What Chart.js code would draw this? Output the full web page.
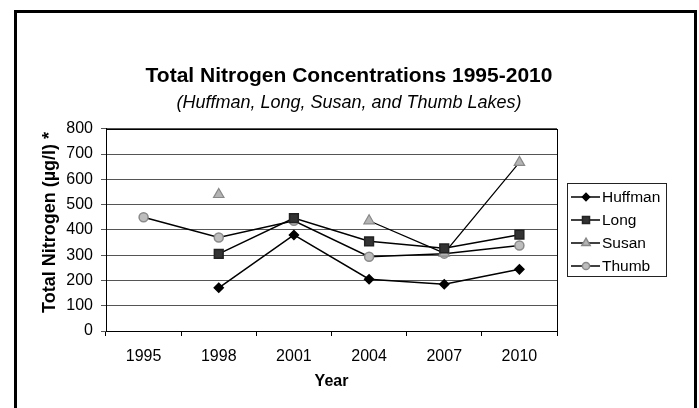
<!DOCTYPE html>
<html>
<head>
<meta charset="utf-8">
<script src="https://cdn.jsdelivr.net/npm/chart.js@4.4.0/dist/chart.umd.min.js"></script>
<style>
  html, body { margin: 0; padding: 0; background: #fff; }
  #wrap { position: relative; width: 699px; height: 408px; }
</style>
</head>
<body>
<div id="wrap"><canvas id="nitrogen"></canvas></div>
<script>
// values
var years = ['1995', '1998', '2001', '2004', '2007', '2010'];
var huffman = [null, 171, 380, 205, 185, 244];
var long = [null, 305, 447, 355, 327, 381];
var susan = [null, 540, null, 436, 308, 667];
var thumb = [450, 370, 436, 294, 306, 338];

var FONT = "'Liberation Sans', Arial, sans-serif";

// black frame around the whole figure
var framePlugin = {
    id: 'frame',
    beforeDraw: function (chart) {
        var c = chart.ctx;
        c.save();
        c.fillStyle = '#fff';
        c.fillRect(0, 0, chart.width, chart.height);
        c.fillStyle = '#000';
        c.fillRect(14, 10, 3, chart.height - 10);
        c.fillRect(14, 10, 683, 3);
        c.fillRect(694, 10, 3, chart.height - 10);
        c.restore();
    },
    afterDraw: function (chart) {
        var c = chart.ctx, a = chart.chartArea;
        c.save();
        c.strokeStyle = '#000';
        c.lineWidth = 1;
        c.strokeRect(Math.round(a.left) + 0.5, Math.round(a.top) + 0.5,
            Math.round(a.right - a.left), Math.round(a.bottom - a.top));
        c.restore();
    }
};

// legend box with line + marker like the spreadsheet original
var boxLegend = {
    id: 'boxLegend',
    afterDraw: function (chart) {
        var c = chart.ctx;
        var x0 = 567, y0 = 183, w = 99, h = 93;
        c.save();
        c.strokeStyle = '#222';
        c.lineWidth = 1;
        c.strokeRect(x0 + 0.5, y0 + 0.5, w, h);
        chart.data.datasets.forEach(function (ds, i) {
            var y = 197 + i * 23;
            c.strokeStyle = '#000';
            c.lineWidth = 1.5;
            c.beginPath();
            c.moveTo(571, y);
            c.lineTo(600, y);
            c.stroke();
            c.fillStyle = ds.pointBackgroundColor;
            c.strokeStyle = ds.pointBorderColor;
            Chart.helpers.drawPoint(c, {
                pointStyle: ds.pointStyle,
                radius: ds.pointRadius * 0.8,
                rotation: 0,
                borderWidth: 1
            }, 586, y);
            c.fillStyle = '#000';
            c.font = '15.5px ' + FONT;
            c.textBaseline = 'middle';
            c.textAlign = 'left';
            c.fillText(ds.label, 602, y + 1);
        });
        c.restore();
    }
};

var ctx = document.getElementById('nitrogen').getContext('2d');
var chart = new Chart(ctx, {
    type: 'line',
    data: {
        labels: years,
        datasets: [
            {
                label: 'Huffman', data: huffman,
                borderColor: '#000', borderWidth: 1.5,
                pointStyle: 'rectRot', pointRadius: 4.5,
                pointBackgroundColor: '#000', pointBorderColor: '#000'
            },
            {
                label: 'Long', data: long,
                borderColor: '#000', borderWidth: 1.5,
                pointStyle: 'rect', pointRadius: 6.2,
                pointBackgroundColor: '#333', pointBorderColor: '#222'
            },
            {
                label: 'Susan', data: susan,
                borderColor: '#000', borderWidth: 1.2,
                pointStyle: 'triangle', pointRadius: 6,
                pointBackgroundColor: '#b4b4b4', pointBorderColor: '#888'
            },
            {
                label: 'Thumb', data: thumb,
                borderColor: '#000', borderWidth: 1.5,
                pointStyle: 'circle', pointRadius: 4.5,
                pointBackgroundColor: '#bdbdbd', pointBorderColor: '#8a8a8a'
            }
        ]
    },
    options: {
        responsive: true,
        maintainAspectRatio: false,
        animation: false,
        layout: { padding: { left: 19, right: 20, top: 0, bottom: 0 } },
        elements: { line: { tension: 0 }, point: { borderWidth: 1 } },
        plugins: {
            legend: { display: false },
            tooltip: { enabled: false },
            title: {
                display: true,
                text: 'Total Nitrogen Concentrations 1995-2010',
                color: '#000',
                font: { family: FONT, size: 21, weight: 'bold' },
                padding: { top: 64, bottom: 0 }
            },
            subtitle: {
                display: true,
                text: '(Huffman, Long, Susan, and Thumb Lakes)',
                color: '#000',
                font: { family: FONT, size: 18, style: 'italic' },
                padding: { top: 3, bottom: 15 }
            }
        },
        scales: {
            x: {
                type: 'category',
                offset: true,
                afterFit: function (s) { s.height = 77; },
                grid: {
                    offset: true,
                    drawOnChartArea: false,
                    drawTicks: true,
                    tickLength: 5,
                    color: '#000'
                },
                border: { color: '#000' },
                ticks: { color: '#000', padding: 11, font: { family: FONT, size: 16 } },
                title: {
                    display: true,
                    text: 'Year',
                    color: '#000',
                    font: { family: FONT, size: 16, weight: 'bold' },
                    padding: { top: 0, bottom: 17 }
                }
            },
            y: {
                min: 0,
                max: 800,
                afterFit: function (s) { s.width = 87; },
                ticks: { stepSize: 100, color: '#000', padding: 8, font: { family: FONT, size: 16 } },
                grid: { color: '#555', tickLength: 5, drawTicks: true },
                border: { color: '#000' },
                title: {
                    display: true,
                    text: '   Total Nitrogen (\u00b5g/l) *',
                    color: '#000',
                    font: { family: FONT, size: 18, weight: 'bold' },
                    padding: { top: 20, bottom: 0 }
                }
            },
            spacer: {
                position: 'right',
                display: true,
                afterFit: function (s) { s.width = 122; },
                grid: { display: false },
                border: { display: false },
                ticks: { display: false }
            }
        }
    },
    plugins: [framePlugin, boxLegend]
});
</script>
</body>
</html>
